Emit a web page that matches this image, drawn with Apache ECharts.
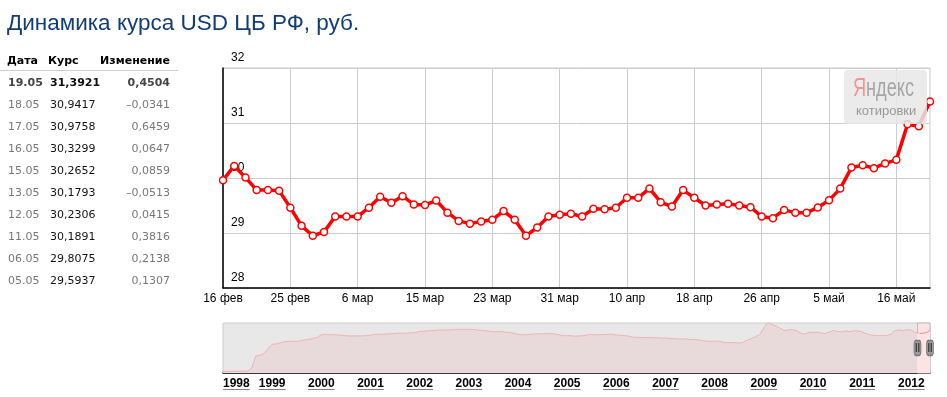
<!DOCTYPE html>
<html>
<head>
<meta charset="utf-8">
<script src="https://cdn.jsdelivr.net/npm/echarts@6/dist/echarts.min.js"></script>
<style>
  html, body { margin: 0; padding: 0; background: #fff; }
  #wrap { position: relative; width: 947px; height: 397px; overflow: hidden; }
  #chart { position: absolute; left: 0; top: 0; width: 947px; height: 397px; }
  #title { position: absolute; left: 7px; top: 12px; font: 22.5px "Liberation Sans", Arial, sans-serif;
           line-height: 22px; color: #123d73; white-space: nowrap; }
  #table { position: absolute; left: 0; top: 0; font: 11px "DejaVu Sans", sans-serif; }
  .c { position: absolute; line-height: 22px; white-space: nowrap; }
  .h { font-weight: bold; color: #000; }
  .r { text-align: right; width: 80px; }
  .d { color: #777; }
  .v { color: #111; }
  .b { font-weight: bold; }
  .b.d { color: #444; }
  .sep { position: absolute; left: 0; top: 70px; width: 178px; height: 1px; background: #ccc; }
</style>
</head>
<body>
<div id="wrap">
  <div id="chart"></div>
  <div id="title">Динамика курса USD ЦБ РФ, руб.</div>
  <div id="table"></div>
</div>
<script>
// курс ЦБ по дням, 16.02 - 19.05
const dates = [
  '16.02', '17.02', '18.02', '21.02', '22.02', '24.02', '25.02',
  '28.02', '29.02', '01.03', '02.03', '03.03', '06.03',
  '07.03', '10.03', '11.03', '13.03', '14.03', '15.03',
  '16.03', '17.03', '20.03', '21.03', '22.03', '23.03',
  '24.03', '27.03', '28.03', '29.03', '30.03', '31.03',
  '03.04', '04.04', '05.04', '06.04', '07.04', '10.04',
  '11.04', '12.04', '13.04', '14.04', '17.04', '18.04',
  '19.04', '20.04', '21.04', '24.04', '25.04', '26.04',
  '27.04', '28.04', '29.04', '03.05', '04.05', '05.05',
  '06.05', '11.05', '12.05', '13.05', '15.05', '16.05',
  '17.05', '18.05', '19.05'
];
const rates = [
  29.96, 30.22, 30.01, 29.78, 29.78, 29.77, 29.46,
  29.13, 28.95, 29.02, 29.30, 29.30, 29.30,
  29.46, 29.66, 29.55, 29.67, 29.52, 29.51,
  29.59, 29.37, 29.22, 29.17, 29.21, 29.24,
  29.40, 29.24, 28.95, 29.10, 29.30, 29.33,
  29.35, 29.30, 29.44, 29.43, 29.46, 29.64,
  29.64, 29.81, 29.56, 29.48, 29.78, 29.64,
  29.50, 29.52, 29.53, 29.50, 29.47, 29.30,
  29.27, 29.42, 29.37, 29.37, 29.463, 29.5937,
  29.8075, 30.1891, 30.2306, 30.1793, 30.2652, 30.3299,
  30.9758, 30.9417, 31.3921
];
const monthNames = ['янв', 'фев', 'мар', 'апр', 'май', 'июн', 'июл', 'авг', 'сен', 'окт', 'ноя', 'дек'];
const yTicks = [28, 29, 30, 31, 32];
const tableRows = 10;

// история по месяцам с января 1998
const historyStart = 1998;
const historyEnd = 2012.38;
const history = [
  5.98, 6.03, 6.07, 6.11, 6.15, 6.20, 6.23, 7.9, 15.5, 15.9, 16.9, 20.0,
  22.6, 22.9, 23.5, 24.3, 24.4, 24.4, 24.4, 24.8, 25.3, 25.7, 26.2, 26.8,
  28.5, 28.7, 28.5, 28.6, 28.3, 28.2, 27.9, 27.7, 27.8, 27.8, 27.8, 27.9,
  28.2, 28.7, 28.7, 28.8, 29.0, 29.1, 29.3, 29.4, 29.4, 29.5, 29.7, 29.9,
  30.5, 30.7, 30.9, 31.1, 31.2, 31.4, 31.5, 31.5, 31.6, 31.7, 31.8, 31.8,
  31.8, 31.7, 31.5, 31.2, 31.1, 30.6, 30.3, 30.4, 30.6, 30.0, 29.8, 29.4,
  28.8, 28.5, 28.5, 28.7, 29.0, 29.0, 29.1, 29.2, 29.2, 28.9, 28.5, 27.9,
  27.9, 27.9, 27.6, 27.8, 27.9, 28.5, 28.6, 28.5, 28.5, 28.6, 28.7, 28.8,
  28.3, 28.2, 27.9, 27.7, 27.0, 26.9, 26.8, 26.7, 26.8, 26.7, 26.6, 26.4,
  26.5, 26.3, 26.1, 25.9, 25.9, 25.9, 25.5, 25.7, 25.4, 24.9, 24.5, 24.5,
  24.5, 24.6, 23.8, 23.6, 23.7, 23.6, 23.3, 23.9, 25.2, 26.2, 27.4, 28.6,
  32.8, 35.9, 34.6, 33.8, 32.4, 31.1, 31.5, 31.6, 31.0, 29.5, 28.9, 29.9,
  29.9, 30.1, 29.6, 29.2, 30.2, 31.1, 30.6, 30.2, 30.9, 30.3, 30.9, 30.8,
  30.2, 29.2, 28.4, 28.1, 27.9, 28.0, 28.0, 28.8, 31.0, 31.5, 31.0, 31.6,
  31.4, 29.9, 29.3, 29.4, 30.2
];
const windowStart = 2012 + 46 / 366; // 16 фев 2012

function fmt(v) { return v.toFixed(4).replace('.', ','); }

// таблица слева
const tbl = document.getElementById('table');
function cell(text, cls, left, top) {
  const el = document.createElement('div');
  el.className = 'c ' + cls;
  el.style.left = left + 'px';
  el.style.top = top + 'px';
  el.textContent = text;
  tbl.appendChild(el);
}
cell('Дата', 'h', 7, 50);
cell('Курс', 'h', 48, 50);
cell('Изменение', 'h r', 90, 50);
const sep = document.createElement('div');
sep.className = 'sep';
tbl.appendChild(sep);
for (let k = 0; k < tableRows; k++) {
  const i = rates.length - 1 - k;
  const ch = rates[i] - rates[i - 1];
  const top = 71.5 + k * 22.1;
  const bold = k === 0 ? ' b' : '';
  cell(dates[i], 'd' + bold, 8, top);
  cell(fmt(rates[i]), 'v' + bold, 50, top);
  cell((ch < 0 ? '–' : '') + fmt(Math.abs(ch)), 'd r' + bold, 90, top);
}

const histData = history.map((v, i) => [historyStart + i / 12, v]);
histData.push([historyEnd, rates[rates.length - 1]]);
const f = (windowStart - historyStart) / (historyEnd - historyStart);

function hardGradient(a, b) {
  return new echarts.graphic.LinearGradient(0, 0, 1, 0, [
    { offset: 0, color: a }, { offset: f, color: a },
    { offset: f, color: b }, { offset: 1, color: b }
  ]);
}

const logoFont = '26px "Liberation Sans", Arial, sans-serif';

const chart = echarts.init(document.getElementById('chart'));
chart.setOption({
  animation: false,
  textStyle: { fontFamily: '"Liberation Sans", Arial, sans-serif' },
  grid: [
    { left: 223, top: 68, width: 707, height: 220, show: true, borderColor: '#ccc', borderWidth: 1 },
    { left: 223, top: 323, width: 707, height: 50, show: true, backgroundColor: '#e8e8e8', borderColor: '#ccc', borderWidth: 1 }
  ],
  xAxis: [
    {
      type: 'category', data: dates, boundaryGap: false, gridIndex: 0,
      axisLine: { lineStyle: { color: '#000', width: 1.5 } },
      axisTick: { show: false },
      axisLabel: {
        interval: 5, color: '#000', fontSize: 12, margin: 5,
        formatter: d => parseInt(d.slice(0, 2), 10) + ' ' + monthNames[parseInt(d.slice(3), 10) - 1]
      },
      splitLine: { show: true, interval: 5, lineStyle: { color: '#ccc' } }
    },
    {
      type: 'value', gridIndex: 1, min: historyStart, max: historyEnd, interval: 1,
      axisLine: { lineStyle: { color: '#000', width: 1.5 } },
      axisTick: { show: false },
      splitLine: { show: false },
      axisLabel: {
        margin: 3, alignMinLabel: 'left', showMaxLabel: false,
        formatter: v => (Math.abs(v - Math.round(v)) < 1e-6 ? '{u|' + Math.round(v) + '}' : ''),
        rich: {
          u: {
            fontWeight: 'bold', fontSize: 12, color: '#000', lineHeight: 15,
            backgroundColor: new echarts.graphic.LinearGradient(0, 0, 0, 1, [
              { offset: 0, color: 'rgba(0,0,0,0)' }, { offset: 0.92, color: 'rgba(0,0,0,0)' },
              { offset: 0.92, color: '#000' }, { offset: 1, color: '#000' }
            ])
          }
        }
      }
    }
  ],
  yAxis: [
    {
      type: 'value', gridIndex: 0, min: yTicks[0], max: yTicks[yTicks.length - 1], interval: 1,
      axisLine: { show: true, lineStyle: { color: '#000', width: 1.5 } },
      axisTick: { show: false },
      axisLabel: { inside: true, verticalAlign: 'bottom', margin: 8, color: '#000', fontSize: 12, padding: [0, 0, 4, 0] },
      splitLine: { lineStyle: { color: '#ccc' } }
    },
    { type: 'value', gridIndex: 1, min: 5, max: 35.7, show: false }
  ],
  graphic: [
    { type: 'rect', z: 5, shape: { x: 844, y: 70, width: 83, height: 54, r: 4 }, style: { fill: 'rgba(232,232,232,0.85)' } },
    {
      type: 'text', z: 6, x: 866, y: 89, scaleX: 0.7,
      style: { text: 'ндекс', fill: '#a6a6a6', font: logoFont, verticalAlign: 'middle' }
    },
    {
      type: 'text', z: 7, x: 853, y: 89, scaleX: 0.7,
      style: { text: 'Я', fill: '#f39494', font: logoFont, verticalAlign: 'middle' }
    },
    {
      type: 'text', z: 6, x: 856, y: 111,
      style: { text: 'котировки', fill: '#999', font: '13px "Liberation Sans", Arial, sans-serif', verticalAlign: 'middle' }
    }
  ],
  series: [
    {
      type: 'line', data: rates, xAxisIndex: 0, yAxisIndex: 0, z: 3,
      symbol: 'circle', symbolSize: 7, showAllSymbol: true,
      lineStyle: { color: '#ff0000', width: 3.5 },
      itemStyle: { color: '#fff', borderColor: '#ff0000', borderWidth: 1.5 }
    },
    {
      type: 'line', data: histData, xAxisIndex: 1, yAxisIndex: 1,
      showSymbol: false, silent: true,
      lineStyle: { color: hardGradient('#f0b2b2', '#f08a8a'), width: 1 },
      areaStyle: { color: hardGradient('#e8dada', '#fde3e3'), opacity: 1 },
      markArea: {
        silent: true,
        itemStyle: { color: '#fde3e3', borderColor: '#bbb', borderWidth: 1 },
        data: [[{ xAxis: windowStart }, { xAxis: historyEnd }]]
      },
      markPoint: {
        silent: true, symbol: 'roundRect', symbolSize: [7, 15],
        itemStyle: { color: '#9a9a9a', borderColor: '#777', borderWidth: 1 },
        label: { show: true, formatter: '||', color: '#333', fontSize: 9, fontWeight: 'bold' },
        data: [{ coord: [windowStart, 20.4] }, { coord: [historyEnd, 20.4] }]
      }
    }
  ]
});
</script>
</body>
</html>
